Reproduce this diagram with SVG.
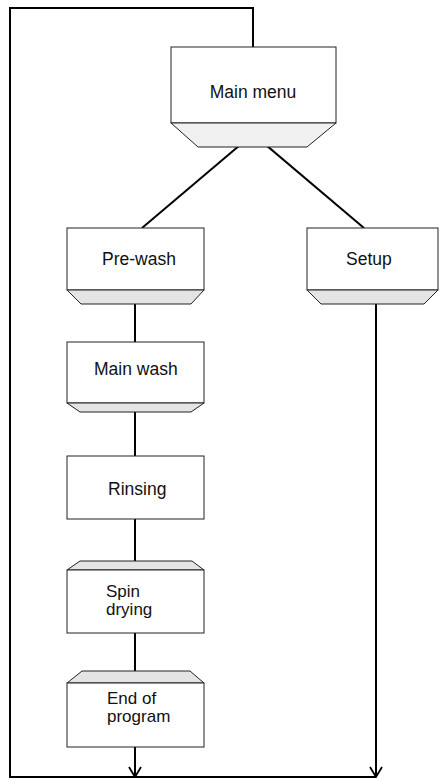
<svg xmlns="http://www.w3.org/2000/svg" width="440" height="781" viewBox="0 0 440 781">
<defs>
<style>
.box{fill:#fff;stroke:#222;stroke-width:1}
.trap{fill:#e4e4e4;stroke:#222;stroke-width:1}
.trap2{fill:#f0f0f0;stroke:#222;stroke-width:1}
.lbl{font-family:"Liberation Sans",Arial,sans-serif;font-size:17.5px;fill:#111}
.lbl2{font-family:"Liberation Sans",Arial,sans-serif;font-size:17px;fill:#111}
.c{fill:none;stroke:#000;stroke-width:2}
</style>
<marker id="v" viewBox="0 0 12 14" refX="11" refY="7" markerWidth="12" markerHeight="14" markerUnits="userSpaceOnUse" orient="auto">
<path d="M1,1 L11,7 L1,13" fill="none" stroke="#000" stroke-width="1.8"/>
</marker>
</defs>
<rect width="440" height="781" fill="#fff"/>
<g id="connectors">
<path class="c" d="M253,47 V8 H10 V777 H376"/>
<path class="c" d="M253,134 L142,228"/>
<path class="c" d="M253,134 L364,228"/>
<path class="c" d="M135,297 V342"/>
<path class="c" d="M135,406 V456"/>
<path class="c" d="M135,519 V565"/>
<path class="c" d="M135,633 V676"/>
<path class="c" d="M135,747 V777" marker-end="url(#v)"/>
<path class="c" d="M376,297 V777" marker-end="url(#v)"/>
</g>
<g id="main-menu">
<rect class="box" x="171" y="47" width="165" height="76"/>
<polygon class="trap2" points="171,123 336,123 307,147 198,147"/>
<text class="lbl" x="253" y="98" text-anchor="middle">Main menu</text>
</g>
<g id="pre-wash">
<rect class="box" x="67" y="228" width="137" height="62"/>
<polygon class="trap" points="67,290 204,290 191,304 81,304"/>
<text class="lbl" x="102" y="265">Pre-wash</text>
</g>
<g id="setup">
<rect class="box" x="307" y="228" width="131" height="62"/>
<polygon class="trap" points="307,290 438,290 424,304 321,304"/>
<text class="lbl" x="346" y="265">Setup</text>
</g>
<g id="main-wash">
<rect class="box" x="67" y="342" width="137" height="61"/>
<polygon class="trap" points="67,403 204,403 191,412 80,412"/>
<text class="lbl" x="94" y="375">Main wash</text>
</g>
<g id="rinsing">
<rect class="box" x="67" y="456" width="137" height="63"/>
<text class="lbl" x="108" y="495">Rinsing</text>
</g>
<g id="spin-drying">
<polygon class="trap" points="80,561 192,561 204,570 67,570"/>
<rect class="box" x="67" y="570" width="137" height="63"/>
<text class="lbl2" x="106" y="597">Spin</text>
<text class="lbl2" x="106" y="615">drying</text>
</g>
<g id="end-of-program">
<polygon class="trap" points="82,671 190,671 204,683 67,683"/>
<rect class="box" x="67" y="683" width="137" height="64"/>
<text class="lbl2" x="107" y="704">End of</text>
<text class="lbl2" x="107" y="722">program</text>
</g>
</svg>
